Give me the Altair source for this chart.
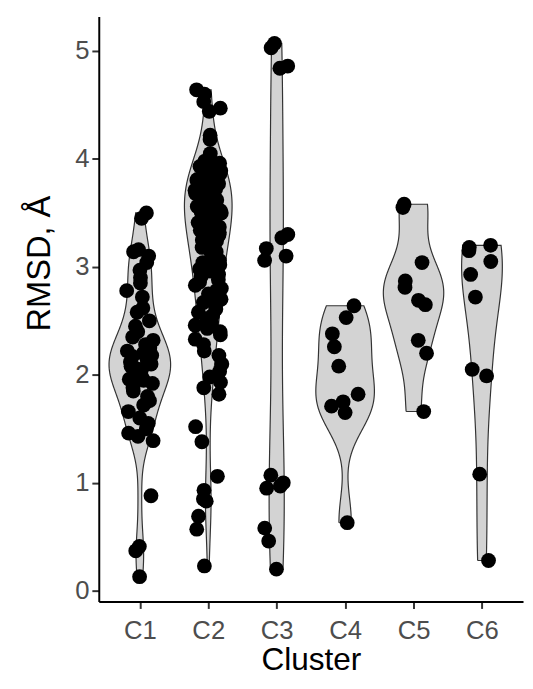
import altair as alt
import numpy as np
import pandas as pd

clusters = ["C1", "C2", "C3", "C4", "C5", "C6"]

c1 = [3.50, 3.45, 3.16, 3.14, 3.10, 3.04, 2.97, 2.90, 2.85, 2.78, 2.72, 2.62,
      2.58, 2.50, 2.45, 2.40, 2.35, 2.32, 2.28, 2.25, 2.24, 2.22, 2.20, 2.18,
      2.17, 2.14, 2.12, 2.10, 2.08, 2.06, 2.05, 2.02, 2.00, 1.98, 1.96, 1.95,
      1.92, 1.88, 1.85, 1.80, 1.76, 1.72, 1.66, 1.60, 1.55, 1.50, 1.46, 1.43,
      1.39, 0.88, 0.41, 0.37, 0.13]
c2 = [4.64, 4.60, 4.53, 4.47, 4.44, 4.22, 4.18, 4.05,
      4.00, 3.98, 3.96, 3.95, 3.93, 3.92, 3.90, 3.89, 3.88, 3.86, 3.85, 3.84,
      3.82, 3.81, 3.80, 3.78, 3.77, 3.76, 3.75, 3.73, 3.72, 3.71, 3.70, 3.68,
      3.67, 3.66, 3.65, 3.63, 3.62, 3.61, 3.60, 3.58, 3.57, 3.56, 3.55, 3.53,
      3.52, 3.51, 3.50, 3.48, 3.47, 3.45, 3.44, 3.42, 3.41, 3.40, 3.38, 3.37,
      3.35, 3.34, 3.32, 3.30, 3.29, 3.27, 3.25, 3.24, 3.22, 3.20, 3.18, 3.16,
      3.14, 3.12, 3.10, 3.08, 3.06, 3.04, 3.02, 3.00, 2.98, 2.96, 2.93, 2.91,
      2.88, 2.86, 2.83, 2.80, 2.78, 2.75, 2.72, 2.70, 2.67, 2.64, 2.61, 2.58,
      2.55, 2.52, 2.49, 2.46, 2.43, 2.40,
      2.37, 2.33, 2.28, 2.22, 2.18, 2.10, 2.03, 1.98, 1.93, 1.88, 1.82, 1.52,
      1.38, 1.06, 0.93, 0.85, 0.83, 0.69, 0.57, 0.23]
c3 = [5.07, 5.03, 4.86, 4.84, 3.30, 3.27, 3.17, 3.10, 3.06, 1.07, 1.00, 0.97,
      0.95, 0.58, 0.46, 0.20]
c4 = [2.64, 2.53, 2.38, 2.26, 2.08, 1.82, 1.75, 1.71, 1.65, 0.63]
c5 = [3.58, 3.55, 3.04, 2.87, 2.81, 2.69, 2.65, 2.32, 2.20, 1.66]
c6 = [3.20, 3.18, 3.15, 3.05, 2.93, 2.72, 2.05, 1.99, 1.08, 0.28]

y_ticks = [0, 1, 2, 3, 4, 5]
groups = [c1, c2, c3, c4, c5, c6]


def nrd0(x):
    x = np.asarray(x, float)
    hi = x.std(ddof=1)
    q75, q25 = np.percentile(x, [75, 25])
    lo = min(hi, (q75 - q25) / 1.34)
    if not lo:
        lo = hi or abs(x[0]) or 1.0
    return 0.9 * lo * len(x) ** -0.2


# violin outlines (ggplot2 style: trim=TRUE, scale="area", width=0.9)
dens = []
for i, vals in enumerate(groups):
    x = np.asarray(vals, float)
    bw = nrd0(x)
    grid = np.linspace(x.min(), x.max(), 256)
    d = np.exp(-0.5 * ((grid[:, None] - x[None, :]) / bw) ** 2).sum(1) / (len(x) * bw * np.sqrt(2 * np.pi))
    dens.append((grid, d))
gmax = max(d.max() for _, d in dens)
rows = []
for i, (grid, d) in enumerate(dens):
    hw = 0.45 * d / gmax
    seq = 0
    for g, h in zip(grid, hw):
        rows.append({"cluster": clusters[i], "y": g, "xo": i + 1 - h, "lo": i + 1 - h, "hi": i + 1 + h, "seq": seq})
        seq += 1
    for g, h in zip(grid[::-1], hw[::-1]):
        rows.append({"cluster": clusters[i], "y": g, "xo": i + 1 + h, "lo": None, "hi": None, "seq": seq})
        seq += 1
    rows.append({"cluster": clusters[i], "y": grid[0], "xo": i + 1 - hw[0], "lo": None, "hi": None, "seq": seq})
violin_df = pd.DataFrame(rows)

# points with a deterministic jitter (width 0.2)
prow = []
for i, vals in enumerate(groups):
    for k, v in enumerate(vals):
        h = np.sin((k + 1) * 12.9898 + (i + 1) * 78.233) * 43758.5453
        j = (h - np.floor(h) - 0.5) * 0.4
        prow.append({"cluster": clusters[i], "value": v, "xj": i + 1 + j})
pts_df = pd.DataFrame(prow)

xscale = alt.Scale(domain=[0.4, 6.6], nice=False, zero=False)
yscale = alt.Scale(domain=[-0.1, 5.32], nice=False, zero=False)

xaxis = alt.Axis(values=[1, 2, 3, 4, 5, 6], labelExpr="'C' + datum.value",
                 title="Cluster", grid=False)
yaxis = alt.Axis(values=y_ticks, title="RMSD, Å", grid=False,
                 titleX=-50, titleY=250, titleBaseline="alphabetic")

base = alt.Chart(violin_df)

fill = base.transform_filter("datum.lo != null").mark_area(
    orient="horizontal", fill="#d3d3d3", strokeWidth=0
).encode(
    y=alt.Y("y:Q", scale=yscale, axis=yaxis),
    x=alt.X("lo:Q", scale=xscale, axis=xaxis),
    x2="hi:Q",
    detail="cluster:N",
)

outline = base.mark_line(color="#333333", strokeWidth=1.2).encode(
    y=alt.Y("y:Q", scale=yscale, axis=yaxis),
    x=alt.X("xo:Q", scale=xscale, axis=xaxis),
    detail="cluster:N",
    order="seq:Q",
)

points = alt.Chart(pts_df).mark_circle(size=225, color="black", opacity=1).encode(
    x=alt.X("xj:Q", scale=xscale, axis=xaxis),
    y=alt.Y("value:Q", scale=yscale, axis=yaxis),
)

chart = alt.layer(fill, outline, points).properties(
    width=430, height=593,
    autosize=alt.AutoSizeParams(type="none"),
    padding={"left": 92, "top": 4, "right": 2, "bottom": 76},
    background="white",
).configure_view(stroke=None).configure_axis(
    labelFont="Liberation Sans", titleFont="Liberation Sans",
    labelFontSize=26, labelColor="#4d4d4d",
    titleFontSize=33, titleFontWeight="normal", titleColor="black",
    domainColor="black", domainWidth=2,
    tickColor="#333333", tickWidth=2, tickSize=7,
    labelPadding=3,
).configure_axisX(labelPadding=9, titlePadding=2, titleFontSize=32)

chart.save("out.html", embed_options={"renderer": "svg", "actions": False})
